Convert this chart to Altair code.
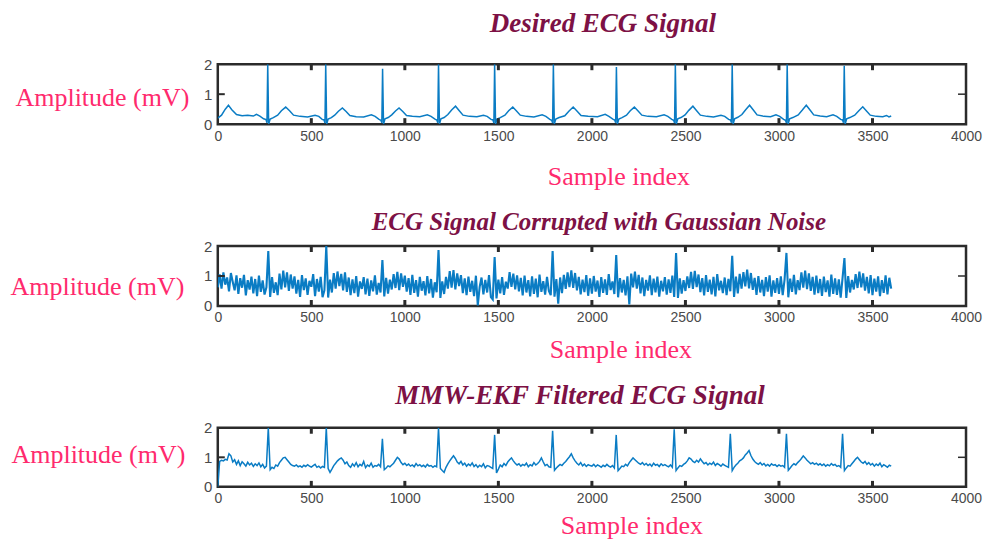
import altair as alt
import pandas as pd

# ---------------- data ----------------
# Desired (clean) ECG: sample index / amplitude (mV)
DESIRED_X = [
    0, 20, 40, 57, 75, 100, 130, 160, 190, 207, 225, 245, 258, 263,
    267, 272, 280, 297, 320, 340, 363, 385, 405, 440, 480, 520, 540, 558, 568, 573,
    577, 582, 590, 607, 625, 645, 666, 686, 706, 740, 780, 821, 841, 862, 872, 877,
    881, 886, 894, 911, 930, 950, 969, 989, 1009, 1040, 1080, 1120, 1140, 1161, 1171, 1176,
    1180, 1185, 1193, 1210, 1230, 1250, 1271, 1291, 1311, 1345, 1385, 1420, 1440, 1461, 1471, 1476,
    1480, 1485, 1493, 1510, 1535, 1555, 1577, 1597, 1617, 1650, 1690, 1734, 1754, 1775, 1785, 1790,
    1794, 1799, 1807, 1825, 1855, 1878, 1900, 1920, 1942, 1980, 2030, 2071, 2091, 2112, 2122, 2127,
    2131, 2136, 2144, 2161, 2185, 2205, 2227, 2247, 2267, 2300, 2345, 2386, 2406, 2427, 2437, 2442,
    2446, 2451, 2459, 2476, 2498, 2518, 2540, 2560, 2580, 2615, 2650, 2690, 2710, 2731, 2741, 2746,
    2750, 2755, 2763, 2780, 2802, 2822, 2843, 2863, 2883, 2920, 2955, 2984, 3004, 3025, 3035, 3040,
    3044, 3049, 3057, 3074, 3103, 3125, 3146, 3166, 3186, 3220, 3255, 3289, 3309, 3330, 3340, 3345,
    3349, 3354, 3362, 3379, 3405, 3427, 3448, 3468, 3488, 3520, 3555, 3575, 3588, 3600,
]
DESIRED_Y = [
    0.20, 0.30, 0.50, 0.63, 0.48, 0.32, 0.28, 0.30, 0.27, 0.33, 0.27, 0.18, 0.15, 0.05,
    2.00, 0.00, 0.17, 0.22, 0.30, 0.45, 0.57, 0.44, 0.30, 0.26, 0.24, 0.30, 0.26, 0.16, 0.14, 0.04,
    2.00, 0.00, 0.17, 0.22, 0.30, 0.43, 0.54, 0.42, 0.29, 0.25, 0.24, 0.31, 0.26, 0.16, 0.13, 0.05,
    1.85, 0.00, 0.18, 0.22, 0.31, 0.44, 0.54, 0.42, 0.29, 0.26, 0.25, 0.31, 0.26, 0.17, 0.14, 0.05,
    2.00, 0.00, 0.18, 0.22, 0.32, 0.47, 0.60, 0.45, 0.30, 0.26, 0.25, 0.30, 0.26, 0.16, 0.14, 0.04,
    2.00, 0.00, 0.17, 0.22, 0.30, 0.45, 0.57, 0.44, 0.30, 0.26, 0.24, 0.31, 0.26, 0.16, 0.13, 0.04,
    2.00, 0.00, 0.17, 0.22, 0.28, 0.44, 0.57, 0.44, 0.29, 0.26, 0.25, 0.33, 0.26, 0.17, 0.14, 0.05,
    1.91, 0.00, 0.17, 0.22, 0.30, 0.45, 0.57, 0.44, 0.30, 0.26, 0.25, 0.31, 0.26, 0.16, 0.13, 0.04,
    2.00, 0.00, 0.18, 0.22, 0.31, 0.46, 0.60, 0.45, 0.30, 0.26, 0.24, 0.30, 0.26, 0.16, 0.14, 0.05,
    2.00, 0.00, 0.18, 0.23, 0.32, 0.48, 0.63, 0.47, 0.31, 0.26, 0.25, 0.31, 0.26, 0.16, 0.13, 0.04,
    2.00, 0.00, 0.18, 0.22, 0.31, 0.47, 0.63, 0.47, 0.31, 0.27, 0.25, 0.31, 0.26, 0.16, 0.14, 0.05,
    1.95, 0.00, 0.18, 0.22, 0.30, 0.45, 0.58, 0.44, 0.30, 0.26, 0.25, 0.29, 0.24, 0.27,
]

# Noisy ECG, one value every 10 samples (0 ... 3600)
NOISY_STEP = 10
NOISY_Y = [
    0.62, 1.05, 0.58, 1.12, 0.71, 0.95, 0.49, 1.10, 0.80, 0.52, 1.02, 0.40, 0.93, 0.61, 1.04, 0.35, 0.86, 0.55, 0.98, 0.42,
    0.90, 0.33, 1.01, 0.47, 0.85, 0.38, 0.62, 1.83, 0.30, 0.96, 0.44, 0.79, 0.36, 1.08, 0.55, 1.18, 0.62, 1.12, 0.50, 1.05,
    0.58, 0.99, 0.41, 0.87, 0.30, 1.03, 0.53, 0.92, 0.37, 0.84, 0.64, 1.06, 0.33, 0.90, 0.48, 0.97, 0.29, 0.52, 2.00, 0.28,
    0.88, 0.45, 1.10, 0.58, 1.15, 0.66, 1.07, 0.52, 1.12, 0.47, 0.95, 0.36, 0.89, 0.43, 1.00, 0.31, 0.82, 0.57, 0.96, 0.39,
    0.91, 0.34, 0.85, 0.49, 1.02, 0.38, 0.77, 0.45, 1.53, 0.32, 0.94, 0.41, 0.88, 0.55, 1.06, 0.60, 1.14, 0.53, 1.09, 0.64,
    1.01, 0.48, 0.93, 0.37, 1.04, 0.44, 0.86, 0.31, 0.97, 0.51, 0.83, 0.35, 1.00, 0.42, 0.90, 0.28, 0.79, 0.46, 1.87, 0.27,
    0.82, 0.40, 0.97, 0.58, 1.16, 0.61, 1.20, 0.55, 1.09, 0.66, 1.03, 0.43, 0.92, 0.36, 0.98, 0.47, 0.84, 0.33, 1.01, 0.02,
    0.64, 0.95, 0.39, 0.87, 0.45, 1.03, 0.30, 0.22, 1.63, 0.25, 0.88, 0.42, 0.96, 0.37, 0.81, 0.58, 1.13, 0.64, 1.08, 0.55,
    1.02, 0.49, 0.94, 0.35, 1.01, 0.45, 0.86, 0.32, 0.99, 0.40, 0.91, 0.29, 1.05, 0.47, 0.83, 0.38, 0.97, 0.50, 0.36, 1.83,
    0.31, 0.90, 0.08, 0.95, 0.43, 1.04, 0.57, 1.12, 0.63, 1.19, 0.60, 1.10, 0.52, 0.97, 0.39, 0.88, 0.46, 1.03, 0.34, 0.92,
    0.41, 1.00, 0.48, 0.85, 0.30, 0.96, 0.44, 0.89, 0.37, 1.06, 0.53, 0.82, 0.40, 1.70, 0.29, 0.93, 0.45, 0.87, 0.35, 0.99,
    0.05, 1.08, 0.62, 1.15, 0.58, 1.04, 0.42, 0.95, 0.33, 0.87, 0.51, 1.02, 0.36, 0.91, 0.45, 0.98, 0.31, 0.84, 0.49, 0.96,
    0.38, 0.89, 0.44, 1.01, 0.30, 1.77, 0.27, 0.92, 0.41, 0.86, 0.50, 0.99, 0.60, 1.14, 0.57, 1.17, 0.63, 1.05, 0.46, 0.93,
    0.35, 1.03, 0.47, 0.88, 0.39, 0.97, 0.32, 1.06, 0.52, 0.84, 0.43, 0.95, 0.36, 0.90, 0.49, 1.67, 0.30, 0.98, 0.42, 1.07,
    0.58, 1.13, 0.65, 1.21, 0.59, 1.10, 0.54, 0.94, 0.37, 1.00, 0.45, 0.87, 0.33, 0.96, 0.48, 1.02, 0.31, 0.85, 0.44, 0.93,
    0.40, 0.99, 0.36, 0.88, 1.77, 0.29, 0.91, 0.47, 1.04, 0.39, 0.86, 0.53, 1.12, 0.61, 1.18, 0.56, 1.09, 0.50, 0.97, 0.38,
    1.01, 0.43, 0.90, 0.34, 0.98, 0.46, 0.85, 0.31, 1.05, 0.40, 0.92, 0.37, 0.89, 0.28, 0.94, 1.60, 0.27, 1.00, 0.45, 0.87,
    0.55, 1.06, 0.60, 1.15, 0.62, 1.09, 0.51, 0.97, 0.42, 1.03, 0.36, 0.91, 0.48, 0.99, 0.33, 0.86, 0.44, 1.02, 0.39, 0.94,
    0.58,
]

# MMW-EKF filtered ECG, one value every 10 samples (0 ... 3600)
FILTERED_STEP = 10
FILTERED_Y = [
    0.00, 0.86, 0.90, 0.88, 0.93, 0.91, 1.12, 1.05, 0.84, 0.92, 0.76, 0.88, 0.72, 0.85, 0.78, 0.70, 0.83, 0.74, 0.80, 0.69,
    0.78, 0.72, 0.81, 0.68, 0.76, 0.64, 0.70, 2.00, 0.58, 0.66, 0.62, 0.74, 0.70, 0.82, 0.90, 0.98, 1.00, 0.92, 0.84, 0.76,
    0.72, 0.70, 0.74, 0.68, 0.71, 0.66, 0.73, 0.69, 0.75, 0.70, 0.67, 0.72, 0.76, 0.66, 0.70, 0.64, 0.69, 0.66, 2.00, 0.62,
    0.49, 0.60, 0.72, 0.80, 0.88, 0.94, 0.98, 0.90, 0.78, 0.84, 0.72, 0.66, 0.78, 0.70, 0.82, 0.68, 0.76, 0.71, 0.86, 0.65,
    0.74, 0.69, 0.80, 0.66, 0.72, 0.70, 0.76, 0.68, 1.63, 0.58, 0.64, 0.71, 0.68, 0.74, 0.80, 0.90, 1.00, 0.94, 0.82, 0.75,
    0.80, 0.72, 0.77, 0.70, 0.74, 0.68, 0.79, 0.71, 0.75, 0.69, 0.73, 0.67, 0.76, 0.70, 0.72, 0.66, 0.71, 0.68, 2.00, 0.62,
    0.55, 0.49, 0.66, 0.78, 0.88, 0.97, 1.05, 0.96, 0.84, 0.78, 0.86, 0.74, 0.80, 0.70, 0.77, 0.72, 0.81, 0.69, 0.75, 0.66,
    0.73, 0.68, 0.78, 0.64, 0.72, 0.70, 0.66, 0.62, 1.76, 0.47, 0.60, 0.74, 0.68, 0.79, 0.72, 0.84, 0.92, 0.98, 0.88, 0.80,
    0.74, 0.78, 0.70, 0.76, 0.72, 0.80, 0.68, 0.75, 0.71, 0.82, 0.74, 0.79, 0.86, 0.98, 0.84, 0.72, 0.76, 0.68, 0.66, 1.90,
    0.56, 0.64, 0.70, 0.76, 0.72, 0.80, 0.86, 0.94, 1.02, 1.12, 0.98, 0.88, 0.80, 0.74, 0.82, 0.71, 0.77, 0.69, 0.75, 0.72,
    0.70, 0.76, 0.68, 0.74, 0.71, 0.66, 0.73, 0.69, 0.76, 0.70, 0.67, 0.72, 0.64, 1.76, 0.55, 0.62, 0.70, 0.68, 0.76, 0.71,
    0.82, 0.90, 0.98, 0.92, 0.86, 0.80, 0.76, 0.82, 0.74, 0.79, 0.72, 0.77, 0.70, 0.80, 0.73, 0.76, 0.69, 0.78, 0.72, 0.75,
    0.71, 0.68, 0.74, 0.66, 1.95, 0.55, 0.64, 0.72, 0.69, 0.76, 0.80, 0.88, 0.98, 0.94, 0.86, 0.82, 0.90, 0.84, 0.95, 0.86,
    0.78, 0.82, 0.74, 0.80, 0.76, 0.84, 0.72, 0.79, 0.75, 0.70, 0.77, 0.73, 0.69, 0.66, 1.80, 0.55, 0.66, 0.74, 0.80, 0.88,
    0.92, 0.98, 1.08, 1.15, 1.23, 1.06, 0.94, 0.86, 0.80, 0.76, 0.82, 0.74, 0.79, 0.71, 0.76, 0.70, 0.78, 0.73, 0.75, 0.69,
    0.74, 0.70, 0.72, 0.66, 1.80, 0.56, 0.64, 0.72, 0.78, 0.74, 0.82, 0.88, 0.96, 1.05, 0.98, 0.90, 0.84, 0.78, 0.82, 0.76,
    0.80, 0.74, 0.78, 0.72, 0.77, 0.70, 0.75, 0.71, 0.79, 0.73, 0.76, 0.69, 0.72, 0.66, 1.80, 0.55, 0.64, 0.72, 0.70, 0.78,
    0.86, 0.94, 1.00, 0.92, 0.84, 0.80, 0.86, 0.76, 0.82, 0.74, 0.79, 0.70, 0.77, 0.72, 0.80, 0.68, 0.75, 0.71, 0.66, 0.73,
    0.70,
]

TITLES = ["Desired ECG Signal",
          "ECG Signal Corrupted with Gaussian Noise",
          "MMW-EKF Filtered ECG Signal"]
X_LABELS = [0, 500, 1000, 1500, 2000, 2500, 3000, 3500, 4000]
X_INNER_TICKS = [500, 1000, 1500, 2000, 2500, 3000, 3500]
Y_LABELS = [0, 1, 2]
Y_INNER_TICKS = [1]

# ---------------- styling ----------------
BLUE = "#0a7cc4"
FRAME = "#2b2b2b"
MAROON = "#7d1145"
PINK = "#ff2a6d"
LABEL_GRAY = "#4a4a4a"
W = 749
Y_MIN, Y_MAX = 0, 2
TICK_FRAC = 0.2  # inner tick length as a share of the y range (about 6 px)

xs = alt.Scale(domain=[0, 4000], nice=False, zero=False)
ys = alt.Scale(domain=[Y_MIN, Y_MAX], nice=False)


def panel(df, H, title, tsize, toffset, tdx, ytx, yty, xtx, xty, lw):
    x_axis = alt.Axis(values=X_LABELS, labelExpr="'' + datum.value", ticks=False,
                      domain=False, grid=False,
                      labelFont="Liberation Sans", labelFontSize=14,
                      labelColor=LABEL_GRAY, labelPadding=5, labelFlush=False,
                      labelOverlap=False,
                      title="Sample index", titleFont="Liberation Serif",
                      titleFontSize=26, titleFontWeight="normal", titleColor=PINK,
                      titleX=xtx, titleY=xty, titleBaseline="alphabetic",
                      titleAlign="center")
    y_axis = alt.Axis(values=Y_LABELS, labelExpr="'' + datum.value", ticks=False,
                      domain=False, grid=False,
                      labelFont="Liberation Sans", labelFontSize=15,
                      labelColor=LABEL_GRAY, labelPadding=6, labelOverlap=False,
                      title="Amplitude (mV)", titleFont="Liberation Serif",
                      titleFontSize=26, titleFontWeight="normal", titleColor=PINK,
                      titleAngle=0, titleAlign="right", titleBaseline="alphabetic",
                      titleX=ytx, titleY=yty)
    line = alt.Chart(df).mark_line(color=BLUE, strokeWidth=lw, clip=True).encode(
        x=alt.X("x:Q", scale=xs, axis=x_axis),
        y=alt.Y("y:Q", scale=ys, axis=y_axis),
    )
    xt = pd.DataFrame({"tx": X_INNER_TICKS})
    yt = pd.DataFrame({"ty": Y_INNER_TICKS})
    top_t = alt.Chart(xt).mark_rule(color=FRAME, strokeWidth=3).encode(
        x=alt.X("tx:Q", scale=xs, axis=None),
        y=alt.datum(Y_MAX, scale=ys, axis=None),
        y2=alt.datum(Y_MAX - TICK_FRAC))
    bot_t = alt.Chart(xt).mark_rule(color=FRAME, strokeWidth=3).encode(
        x=alt.X("tx:Q", scale=xs, axis=None),
        y=alt.datum(Y_MIN, scale=ys, axis=None),
        y2=alt.datum(Y_MIN + TICK_FRAC))
    left_t = alt.Chart(yt).mark_rule(color=FRAME, strokeWidth=2).encode(
        y=alt.Y("ty:Q", scale=ys, axis=None), x=alt.value(0), x2=alt.value(7))
    right_t = alt.Chart(yt).mark_rule(color=FRAME, strokeWidth=1.5).encode(
        y=alt.Y("ty:Q", scale=ys, axis=None), x=alt.value(W - 8), x2=alt.value(W))
    return alt.layer(line, left_t, right_t, top_t, bot_t).resolve_axis(
        x="independent", y="independent"
    ).properties(
        width=W, height=H,
        title=alt.TitleParams(TITLES[title], font="Liberation Serif", fontSize=tsize,
                              fontStyle="italic", fontWeight="bold", color=MAROON,
                              anchor="middle", baseline="alphabetic",
                              offset=toffset, dx=tdx),
    )


df1 = pd.DataFrame({"x": DESIRED_X, "y": DESIRED_Y})
df2 = pd.DataFrame({"x": [i * NOISY_STEP for i in range(len(NOISY_Y))], "y": NOISY_Y})
df3 = pd.DataFrame({"x": [i * FILTERED_STEP for i in range(len(FILTERED_Y))], "y": FILTERED_Y})

p1 = panel(df1, 60, 0, 27, -2, 11, -29, 41, 401, 60, 1.5)
p2 = panel(df2, 60, 1, 25, -16, 7, -34, 49, 403, 52, 2.1)
p3 = panel(df3, 59, 2, 27, -10, -12, -33, 35, 414, 47, 1.5)

chart = alt.vconcat(p1, p2, p3, spacing=122, bounds="flush").properties(
    padding={"left": 0, "top": 0, "right": 0, "bottom": 0},
).configure_view(stroke=FRAME, strokeWidth=2.5)

chart.save("out.html", embed_options={"renderer": "svg", "actions": False})
